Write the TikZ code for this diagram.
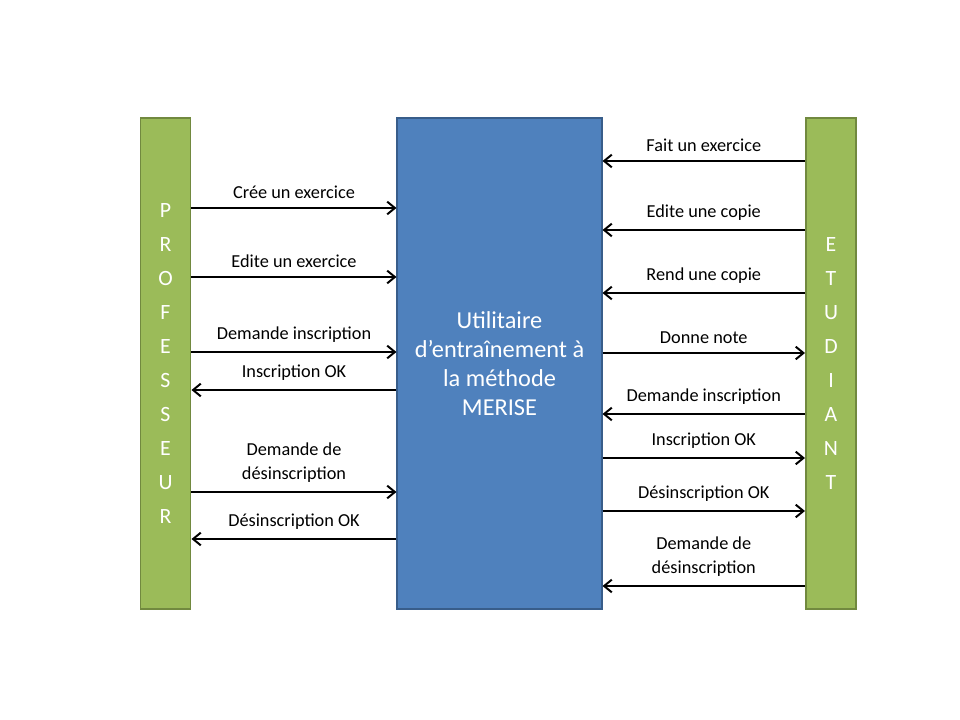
\documentclass[tikz,border=0pt]{standalone}
\usepackage{fontspec}
\setmainfont{Carlito}
\usetikzlibrary{arrows.meta}
\definecolor{actfill}{HTML}{9BBB59}
\definecolor{actline}{HTML}{71893F}
\definecolor{sysfill}{HTML}{4F81BD}
\definecolor{sysline}{HTML}{385D8A}
\tikzset{
  actor/.style={rectangle, fill=actfill, draw=actline, line width=1.4pt, minimum width=1.25cm, minimum height=12.25cm, text=white, align=center, font=\fontsize{15.5}{24.2}\selectfont},
  system/.style={rectangle, fill=sysfill, draw=sysline, line width=1.4pt, minimum width=5.1cm, minimum height=12.25cm, text=white, align=center, font=\fontsize{17.3}{20.6}\selectfont},
  flow/.style={line width=1.4pt, -{Straight Barb[length=5.5pt,width=9pt]}},
  lbl/.style={midway, above=2.5pt, align=center, font=\fontsize{13}{17}\selectfont}
}
\begin{document}
\begin{tikzpicture}[x=0.025cm, y=-0.025cm]
\useasboundingbox (0,0) rectangle (960,720);
\node[actor] (prof) at (165.5,363.5){P\\R\\O\\F\\E\\S\\S\\E\\U\\R};
\node[system] (util) at (499.5,363.5){Utilitaire\\d'entraînement à\\la méthode\\MERISE};
\node[actor] (etu) at (831,363.5){E\\T\\U\\D\\I\\A\\N\\T};
\draw[flow](prof.east |- 0,208) -- (util.west |- 0,208) node[lbl]{Crée un exercice};
\draw[flow](prof.east |- 0,277) -- (util.west |- 0,277) node[lbl]{Edite un exercice};
\draw[flow](prof.east |- 0,352) -- (util.west |- 0,352) node[lbl]{Demande inscription};
\draw[flow](util.west |- 0,390) -- (prof.east |- 0,390) node[lbl]{Inscription OK};
\draw[flow](prof.east |- 0,492) -- (util.west |- 0,492) node[lbl]{Demande de\\désinscription};
\draw[flow](util.west |- 0,539) -- (prof.east |- 0,539) node[lbl]{Désinscription OK};
\draw[flow](etu.west |- 0,161) -- (util.east |- 0,161) node[lbl]{Fait un exercice};
\draw[flow](etu.west |- 0,230) -- (util.east |- 0,230) node[lbl]{Edite une copie};
\draw[flow](etu.west |- 0,293) -- (util.east |- 0,293) node[lbl]{Rend une copie};
\draw[flow](util.east |- 0,353) -- (etu.west |- 0,353) node[lbl]{Donne note};
\draw[flow](etu.west |- 0,414) -- (util.east |- 0,414) node[lbl]{Demande inscription};
\draw[flow](util.east |- 0,458) -- (etu.west |- 0,458) node[lbl]{Inscription OK};
\draw[flow](util.east |- 0,511) -- (etu.west |- 0,511) node[lbl]{Désinscription OK};
\draw[flow](etu.west |- 0,586) -- (util.east |- 0,586) node[lbl]{Demande de\\désinscription};
\end{tikzpicture}
\end{document}
